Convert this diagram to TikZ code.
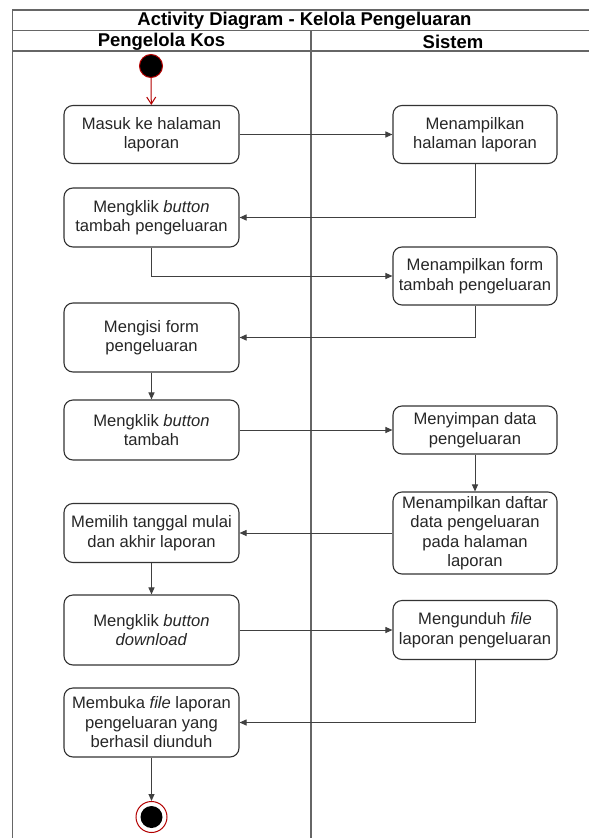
\documentclass[tikz,border=0pt]{standalone}
\usepackage{fontspec}
\setmainfont{Liberation Sans}
\usetikzlibrary{arrows.meta}
\definecolor{startred}{HTML}{B20000}
\begin{document}
\begin{tikzpicture}[x=1pt,y=-1pt,
  act/.style={draw=black!80, line width=1.1pt, rounded corners=9pt, align=center,
    font=\fontsize{16.6}{19.5}\selectfont, text=black!85, inner sep=0pt},
  lft/.style={act, minimum width=175pt},
  rgt/.style={act, minimum width=164pt},
  flow/.style={draw=black!75, line width=1pt, -{Triangle[length=7pt,width=6pt]}},
  lanefr/.style={draw=black!60, line width=1.3pt},
  hdr/.style={font=\bfseries\fontsize{18.5}{20}\selectfont, inner sep=0pt}]
\useasboundingbox (0,0) rectangle (589,838);
\clip (0,0) rectangle (589,838);
% frame
\draw[lanefr] (12.7,850) -- (12.7,10) -- (596,10) -- (596,850);
\draw[lanefr] (12.7,30.3) -- (596,30.3);
\draw[lanefr] (12.7,51) -- (596,51);
\draw[lanefr] (311,30.3) -- (311,850);
\node[hdr] (title) at (304.5,20.5) {Activity Diagram - Kelola Pengeluaran};
\node[hdr] (lane1) at (161.5,41.5) {Pengelola Kos};
\node[hdr] (lane2) at (453,41.5) {Sistem};
% start / end
\node[circle, fill=black, draw=startred, line width=1pt, minimum size=23pt, inner sep=0pt] (start) at (151,66) {};
\node[circle, draw=startred, line width=1pt, minimum size=31pt, inner sep=0pt] (end) at (151.5,817) {};
\node[circle, fill=black, minimum size=22pt, inner sep=0pt] (endin) at (151.5,817) {};
% activities
\node[lft, minimum height=58pt] (a1) at (151.5,134.5) {Masuk ke halaman\\laporan};
\node[rgt, minimum height=58pt] (s1) at (475,134.5) {Menampilkan\\halaman laporan};
\node[lft, minimum height=59pt] (a2) at (151.5,217.5) {Mengklik \textit{button}\\tambah pengeluaran};
\node[rgt, minimum height=58pt] (s2) at (475,276) {Menampilkan form\\tambah pengeluaran};
\node[lft, minimum height=69pt] (a3) at (151.5,337.5) {Mengisi form\\pengeluaran};
\node[lft, minimum height=60pt] (a4) at (151.5,430) {Mengklik \textit{button}\\tambah};
\node[rgt, minimum height=48pt] (s3) at (475,430) {Menyimpan data\\pengeluaran};
\node[rgt, minimum height=82pt] (s4) at (475,533) {Menampilkan daftar\\data pengeluaran\\pada halaman\\laporan};
\node[lft, minimum height=59pt] (a5) at (151.5,533) {Memilih tanggal mulai\\dan akhir laporan};
\node[lft, minimum height=70pt] (a6) at (151.5,630) {Mengklik \textit{button}\\\textit{download}};
\node[rgt, minimum height=59pt] (s5) at (475,630) {Mengunduh \textit{file}\\laporan pengeluaran};
\node[lft, minimum height=69pt] (a7) at (151.5,722.5) {Membuka \textit{file} laporan\\pengeluaran yang\\berhasil diunduh};
% flows
\draw[draw=startred, line width=1pt, -{Straight Barb[length=7pt,width=9pt]}] (start) -- (a1);
\draw[flow] (a1) -- (s1);
\draw[flow] (s1.south) |- (a2.east);
\draw[flow] (a2.south) |- (s2.west);
\draw[flow] (s2.south) |- (a3.east);
\draw[flow] (a3) -- (a4);
\draw[flow] (a4) -- (s3);
\draw[flow] (s3) -- (s4);
\draw[flow] (s4) -- (a5);
\draw[flow] (a5) -- (a6);
\draw[flow] (a6) -- (s5);
\draw[flow] (s5.south) |- (a7.east);
\draw[flow] (a7) -- (end);
\end{tikzpicture}
\end{document}
